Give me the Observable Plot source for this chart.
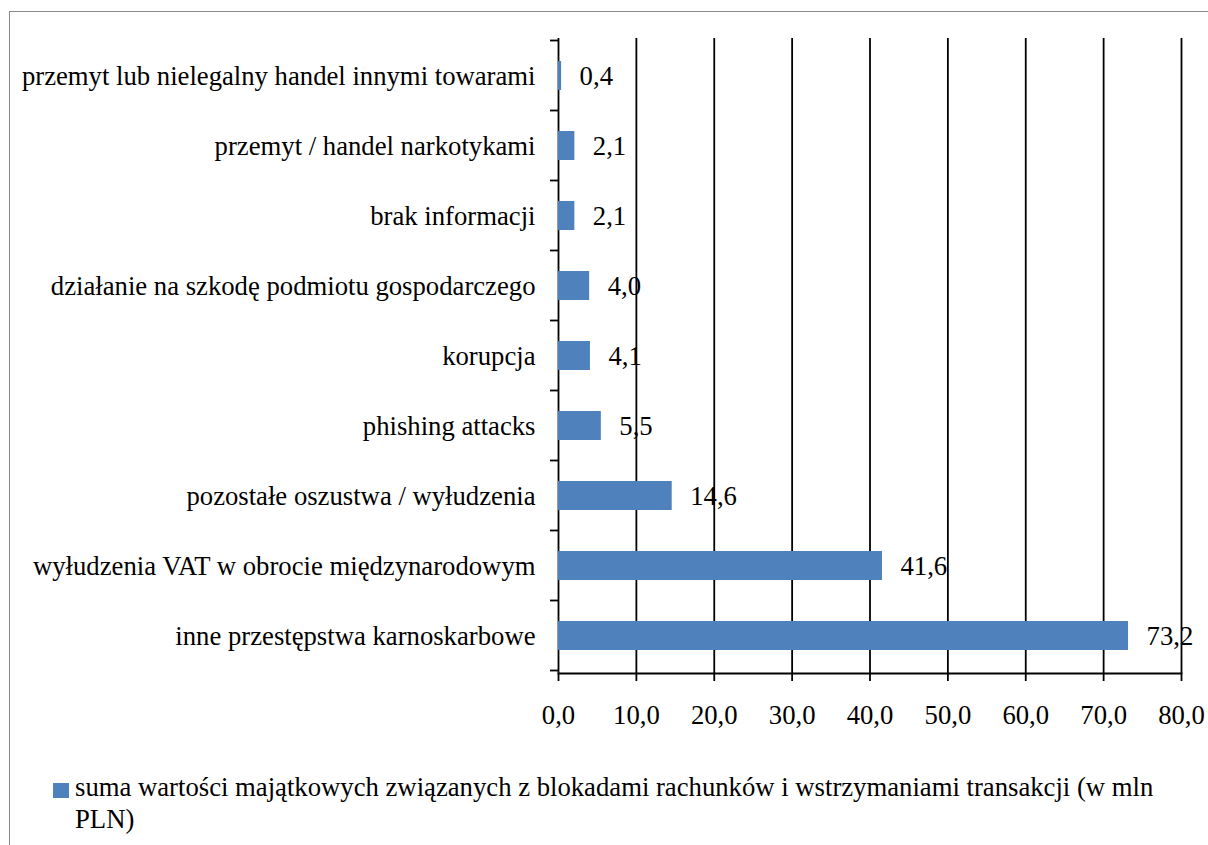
<!DOCTYPE html>
<html><head><meta charset="utf-8">
<script src="https://cdn.jsdelivr.net/npm/d3@7"></script>
<script src="https://cdn.jsdelivr.net/npm/@observablehq/plot@0.6"></script>
<style>
html,body{margin:0;padding:0;background:#fff;}
#wrap{position:relative;width:1208px;height:845px;overflow:hidden;font-family:"Times New Roman","Liberation Serif","DejaVu Serif",serif;}
#frame{position:absolute;left:9px;top:11px;width:1300px;height:900px;border:1.5px solid #8a8a8a;box-sizing:border-box;}
#chart{position:absolute;left:0;top:0;}
#legend{position:absolute;left:53px;top:771px;font-size:26.7px;line-height:32px;color:#000;}
#legend .sw{position:absolute;left:0;top:12px;width:16px;height:15px;background:#4f81bd;}
#legend .tx{position:absolute;left:22px;top:0;white-space:nowrap;}
</style></head>
<body>
<div id="wrap"><div id="frame"></div><div id="chart"></div>
<div id="legend"><div class="sw"></div><div class="tx">suma wartości majątkowych związanych z blokadami rachunków i wstrzymaniami transakcji (w mln<br>PLN)</div></div>
</div>
<script>
const categories = [
  "przemyt lub nielegalny handel innymi towarami",
  "przemyt / handel narkotykami",
  "brak informacji",
  "działanie na szkodę podmiotu gospodarczego",
  "korupcja",
  "phishing attacks",
  "pozostałe oszustwa / wyłudzenia",
  "wyłudzenia VAT w obrocie międzynarodowym",
  "inne przestępstwa karnoskarbowe"
];
const values = [0.4, 2.1, 2.1, 4.0, 4.1, 5.5, 14.6, 41.6, 73.2];
const xTicks = [0, 10, 20, 30, 40, 50, 60, 70, 80];

const data = categories.map((c, i) => ({cat: c, val: values[i]}));
const fmt = v => d3.format(".1f")(v).replace(".", ",");
const FONT = '"Times New Roman", "Liberation Serif", "DejaVu Serif", serif';
const FS = 26.7;

const plot = Plot.plot({
  width: 1208,
  height: 740,
  marginLeft: 558,
  marginRight: 27,
  marginTop: 38,
  marginBottom: 67,
  style: {fontFamily: FONT, fontSize: FS + "px", color: "#000", background: "transparent", overflow: "visible"},
  x: {domain: [0, 80], ticks: xTicks, tickFormat: fmt, label: null},
  y: {domain: categories, paddingInner: 0.59, paddingOuter: 0.295, label: null},
  marks: [
    Plot.ruleX(xTicks, {stroke: "#000", strokeWidth: 1.8}),
    Plot.barX(data, {y: "cat", x: "val", fill: "#4f81bd"}),
    Plot.text(data, {y: "cat", x: "val", text: d => fmt(d.val), textAnchor: "start", dx: 18, fontSize: FS, fill: "#000"}),
    Plot.frame({anchor: "bottom", stroke: "#000", strokeWidth: 1.8}),
    Plot.axisX({ticks: xTicks, tickFormat: fmt, tickSize: 8, tickPadding: 24, stroke: "#000", strokeWidth: 1.8, fontSize: FS, label: null}),
    Plot.axisY({tickSize: 0, tickPadding: 23, fontSize: FS, label: null})
  ]
});
document.getElementById("chart").appendChild(plot);

// y-axis ticks at band boundaries using the plot's y scale
const ys = plot.scale("y");
const svg = d3.select(plot);
const half = (ys.step - ys.bandwidth) / 2;
const bounds = categories.map(c => ys.apply(c) - half);
bounds.push(ys.apply(categories[categories.length - 1]) + ys.bandwidth + half);
const x0 = plot.scale("x").apply(0);
svg.append("g").selectAll("line").data(bounds).join("line")
  .attr("x1", x0 - 8).attr("x2", x0).attr("y1", d => d).attr("y2", d => d)
  .attr("stroke", "#000").attr("stroke-width", 1.8);
</script>
</body></html>
